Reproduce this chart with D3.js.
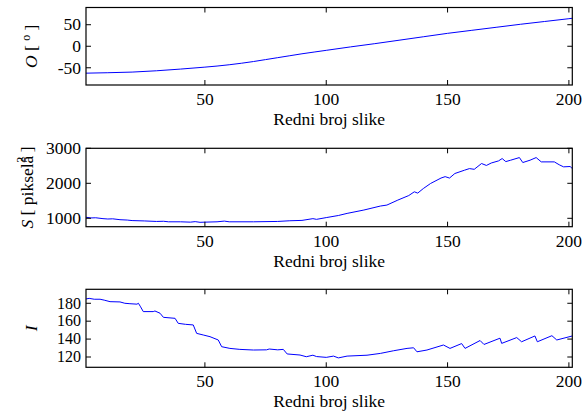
<!DOCTYPE html>
<html><head><meta charset="utf-8">
<script src="https://cdn.jsdelivr.net/npm/d3@7"></script>
<style>
body{margin:0;background:#fff;}
</style></head>
<body><svg id="c" width="586" height="417" font-family="'Liberation Serif', 'Times New Roman', 'DejaVu Serif', serif"></svg>
<script>
// ---- data ----
const xTicks = [50, 100, 150, 200];
const xLabel = "Redni broj slike";

const oX = [1, 10, 20, 30, 40, 50, 55, 60, 65, 70, 75, 80, 85, 90, 95, 100, 110, 120, 130, 140, 150, 160, 170, 180, 190, 200, 201.4];
const oY = [-62.5, -61.5, -60, -57, -53, -48.5, -46, -43, -39.5, -35.5, -31, -26.5, -22, -17.5, -13.5, -9.5, -1.5, 6, 14, 22, 30, 37, 44, 51, 57.5, 64, 65];
const oTicks = [-50, 0, 50];

const sX = [1, 3, 5, 8, 10, 12, 15, 18, 20, 25, 30, 33, 35, 40, 44, 46, 48, 50, 55, 58, 60, 70, 80, 85, 90, 94.5, 96, 100, 105, 108.6, 115.5, 122.3, 125, 129.5, 134, 136.3, 137.7, 140, 143, 147.3, 149, 150.8, 153, 157, 159, 161, 164, 166, 168, 171, 172.5, 174, 176, 179.6, 181, 184, 186.5, 188.6, 194, 196, 197.8, 200.5, 201.4];
const sY = [1030, 1010, 1015, 990, 980, 985, 960, 950, 935, 925, 910, 915, 900, 900, 890, 905, 885, 890, 900, 920, 900, 900, 910, 930, 940, 990, 970, 1020, 1080, 1140, 1236, 1350, 1378, 1520, 1650, 1757, 1720, 1850, 1995, 2150, 2190, 2150, 2280, 2375, 2420, 2400, 2565, 2510, 2580, 2640, 2707, 2620, 2660, 2735, 2593, 2660, 2735, 2612, 2612, 2530, 2470, 2480, 2422];
const sTicks = [1000, 2000, 3000];

const iX = [1, 2.3, 4.4, 6.8, 8.5, 10.9, 15, 17, 19.1, 22, 22.6, 23.5, 24.6, 28.7, 29.4, 31.5, 32.9, 37.7, 39, 42, 45.2, 46.6, 49.3, 52.1, 55.5, 56.9, 60.3, 64.4, 70, 75.4, 76.5, 80, 82.3, 83.9, 89.2, 91.8, 94.5, 96, 100, 103, 105, 108.6, 116.8, 122.3, 127.8, 133.3, 136, 137.4, 141.5, 148.3, 151, 155.8, 157.2, 163.4, 165, 171.6, 172.3, 178.5, 180.5, 186, 187, 193, 195, 201.4];
const iY = [184.8, 185.5, 184.5, 184.5, 183.5, 181.8, 181.5, 180, 179.5, 179, 180, 176, 170.7, 170.7, 171.4, 168.9, 164.3, 163.2, 157.6, 156.5, 155.8, 146.4, 144.6, 142.7, 139, 131.5, 129.6, 128.5, 127.8, 128, 128.9, 128, 128.5, 123.4, 122.2, 120.3, 122, 120.5, 119.6, 121, 119, 121, 122, 124, 127, 129.6, 130.3, 125.8, 127.8, 133.4, 129.6, 135, 129.6, 138.4, 134, 141, 135.2, 141.7, 137, 143.5, 137, 143.8, 139, 143.5];
const iTicks = [120, 140, 160, 180];

// ---- layout ----
const svg = d3.select("#c");
const L = 86, R = 572.3;
const x = d3.scaleLinear().domain([1, 201.4]).range([L, R]);
const FS = 17.5;

const panels = [
  {xs: oX, ys: oY, ticks: oTicks, dom: [-90, 90], top: 7.5, bot: 85, tfs: FS},
  {xs: sX, ys: sY, ticks: sTicks, dom: [760, 3000], top: 148.3, bot: 226.7, tfs: FS},
  {xs: iX, ys: iY, ticks: iTicks, dom: [108.5, 195.6], top: 289.3, bot: 367.3, tfs: 16}
];

panels.forEach((p, k) => {
  const y = d3.scaleLinear().domain(p.dom).range([p.bot, p.top]);
  const g = svg.append("g");
  const tl = 5;
  const data = p.xs.map((v, i) => [v, p.ys[i]]);
  g.append("path").datum(data)
    .attr("d", d3.line().x(d => x(d[0])).y(d => y(d[1])))
    .attr("fill", "none").attr("stroke", "#0000ff").attr("stroke-width", 1);
  xTicks.forEach(t => {
    g.append("line").attr("x1", x(t)).attr("x2", x(t)).attr("y1", p.bot).attr("y2", p.bot - tl).attr("stroke", "#000");
    g.append("line").attr("x1", x(t)).attr("x2", x(t)).attr("y1", p.top).attr("y2", p.top + tl).attr("stroke", "#000");
    g.append("text").attr("x", x(t)).attr("y", p.bot + 20).attr("text-anchor", "middle")
      .attr("font-size", FS).text(t);
  });
  p.ticks.forEach(t => {
    g.append("line").attr("x1", L).attr("x2", L + tl).attr("y1", y(t)).attr("y2", y(t)).attr("stroke", "#000");
    g.append("line").attr("x1", R).attr("x2", R - tl).attr("y1", y(t)).attr("y2", y(t)).attr("stroke", "#000");
    g.append("text").attr("x", L - 5).attr("y", y(t)).attr("dy", "0.33em").attr("text-anchor", "end")
      .attr("font-size", p.tfs).text(t);
  });
  g.append("rect").attr("x", L).attr("y", p.top).attr("width", R - L).attr("height", p.bot - p.top)
    .attr("fill", "none").attr("stroke", "#000").attr("stroke-width", 1.2);
  g.append("text").attr("x", (L + R) / 2).attr("y", p.bot + 40).attr("text-anchor", "middle")
    .attr("font-size", FS).text(xLabel);
  const cy = (p.top + p.bot) / 2;
  const yl = g.append("text").attr("transform", `translate(${k === 1 ? 33 : 37},${cy}) rotate(-90)`)
    .attr("text-anchor", "middle").attr("font-size", FS);
  if (k === 0) {
    yl.append("tspan").attr("font-style", "italic").text("O");
    yl.append("tspan").text(" [ ");
    yl.append("tspan").attr("font-size", 12).attr("dy", -7).text("o");
    yl.append("tspan").attr("dy", 7).text(" ]");
  } else if (k === 1) {
    yl.append("tspan").attr("font-style", "italic").text("S");
    yl.append("tspan").text(" [ pikselâ");
    yl.append("tspan").attr("font-size", 12).attr("dy", -8).attr("dx", -7).text("2");
    yl.append("tspan").attr("dy", 8).text(" ]");
  } else {
    yl.append("tspan").attr("font-style", "italic").text("I");
  }
});
</script></body></html>
